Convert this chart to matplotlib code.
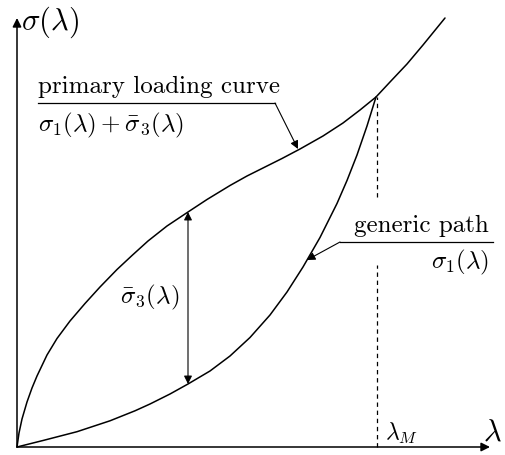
import matplotlib

matplotlib.use("Agg")
import matplotlib.pyplot as plt

plt.rcParams["mathtext.fontset"] = "cm"
plt.rcParams["font.family"] = ["cmr10", "DejaVu Serif"]

# primary loading curve  sigma_1 + sigma3_bar  (lambda, sigma)
loading_lam = [0, 2, 5, 10, 15, 20, 30, 40, 53, 68, 83, 100, 115, 131, 150,
               171, 190, 213, 230, 246, 265, 283, 306, 326, 343, 359, 373,
               390, 406, 428]
loading_sig = [0, 14, 28, 45, 59, 71, 92, 108.5, 126, 143.5, 160, 177.5,
               191.5, 206, 221, 235, 247.5, 261.5, 271, 279, 288.5, 298, 311,
               324, 337, 350, 365, 383, 402, 429]

# generic path  sigma_1, rejoining the loading curve at lambda_M
path_lam = [0, 26, 60, 93, 118, 133, 153, 171, 193, 213, 233, 253, 270, 286,
            303, 320, 330, 340, 350, 359]
path_sig = [0, 6.5, 15.3, 26.2, 36.2, 43, 53, 63, 76, 91, 109.5, 132, 155,
            180, 209.5, 243.5, 266.5, 292, 321, 350]

lam_max = 359          # lambda_M
lam_gap = 171          # where the sigma3_bar gap is marked

fig = plt.figure(figsize=(5.06, 4.55), dpi=100)
ax = fig.add_axes([0, 0, 1, 1])
ax.set_xlim(-17, 489)
ax.set_ylim(-8, 447)
ax.axis("off")

curve_kw = dict(color="black", lw=1.1, solid_capstyle="round",
                solid_joinstyle="round")
ax.plot(loading_lam, loading_sig, **curve_kw)
ax.plot(path_lam, path_sig, **curve_kw)

# axes with arrow heads
axis_arrow = dict(arrowstyle="-|>", color="black", lw=1.1, mutation_scale=13,
                  shrinkA=0, shrinkB=0)
ax.annotate("", xy=(473, 0), xytext=(0, 0), arrowprops=axis_arrow)
ax.annotate("", xy=(0, 429), xytext=(0, 0), arrowprops=axis_arrow)
ax.text(4, 425, r"$\sigma(\lambda)$", fontsize=22, va="center", ha="left")
ax.text(485, 14, r"$\lambda$", fontsize=22, va="center", ha="right")

# lambda_M marker, broken where the path label sits
sig_at_max = loading_sig[loading_lam.index(lam_max)]
dash = dict(color="black", lw=0.9, ls=(0, (3.5, 3)))
ax.plot([lam_max + 1, lam_max + 1], [0, 182], **dash)
ax.plot([lam_max + 1, lam_max + 1], [250, sig_at_max], **dash)
ax.text(368, 14, r"$\lambda_M$", fontsize=17, va="center", ha="left")

# sigma3_bar gap between the two curves
top = loading_sig[loading_lam.index(lam_gap)]
bottom = path_sig[path_lam.index(lam_gap)]
ax.annotate("", xy=(lam_gap, top), xytext=(lam_gap, bottom),
            arrowprops=dict(arrowstyle="<|-|>", color="black", lw=0.8,
                            mutation_scale=12, shrinkA=0, shrinkB=0))
ax.text(lam_gap - 38, 150, r"$\bar\sigma_3(\lambda)$", fontsize=18,
        va="center", ha="center")

# leader for the primary loading curve
leader = dict(arrowstyle="-|>", color="black", lw=0.8, mutation_scale=12,
              shrinkA=0, shrinkB=0)
ax.plot([21, 258], [344, 344], color="black", lw=0.9)
ax.annotate("", xy=(281, 298), xytext=(258, 344), arrowprops=leader)
ax.text(21, 349, "primary loading curve", fontsize=18, va="bottom", ha="left")
ax.text(21, 322, r"$\sigma_1(\lambda) + \bar\sigma_3(\lambda)$", fontsize=18,
        va="center", ha="left")

# leader for the generic path
ax.plot([323, 476], [205, 205], color="black", lw=0.9)
ax.annotate("", xy=(290, 187), xytext=(323, 205), arrowprops=leader)
ax.text(472, 210, "generic path", fontsize=18, va="bottom", ha="right")
ax.text(472, 185, r"$\sigma_1(\lambda)$", fontsize=18, va="center", ha="right")

fig.savefig("out.png", dpi=100)
